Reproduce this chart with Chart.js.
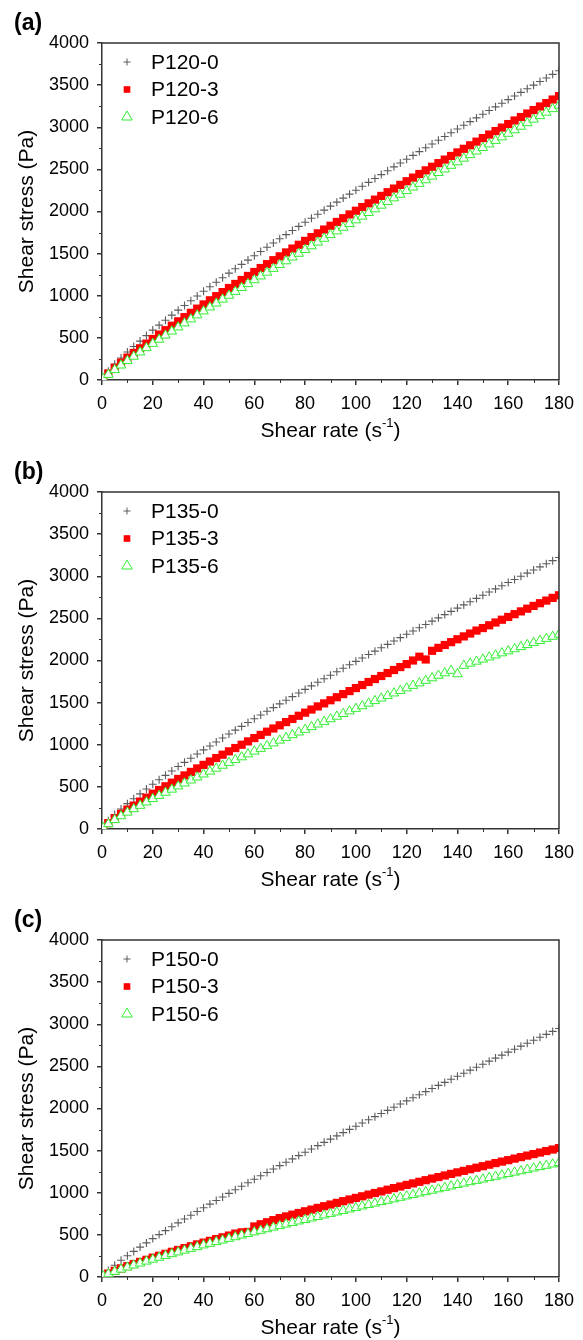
<!DOCTYPE html>
<html>
<head>
<meta charset="utf-8">
<script src="https://cdn.jsdelivr.net/npm/chart.js@4.4.0/dist/chart.umd.min.js"></script>
<style>
  html, body { margin: 0; padding: 0; background: #fff; }
  body { width: 583px; height: 1340px; position: relative; overflow: hidden; }
  canvas { position: absolute; left: 0; }
</style>
</head>
<body>
<canvas id="chartA" width="583" height="443" style="top:0px"></canvas>
<canvas id="chartB" width="583" height="443" style="top:449px"></canvas>
<canvas id="chartC" width="583" height="443" style="top:897px"></canvas>
<script>
const FONT = "'Liberation Sans', Arial, Helvetica, sans-serif";
const AXIS = '#333333';

// shear rate (s-1), same for every sample
const rate = [0.5, 2.5, 5, 7.5, 10, 12.5, 15, 17.5, 20, 22.5, 25, 27.5, 30, 32.5, 35, 37.5,
  40, 42.5, 45, 47.5, 50, 52.5, 55, 57.5, 60, 62.5, 65, 67.5, 70, 72.5, 75, 77.5,
  80, 82.5, 85, 87.5, 90, 92.5, 95, 97.5, 100, 102.5, 105, 107.5, 110, 112.5, 115, 117.5,
  120, 122.5, 125, 127.5, 130, 132.5, 135, 137.5, 140, 142.5, 145, 147.5, 150, 152.5, 155, 157.5,
  160, 162.5, 165, 167.5, 170, 172.5, 175, 177.5, 180];

// shear stress (Pa)
// (a)
const p120_0 = [28, 105, 188, 262, 333, 398, 462, 527, 592, 651, 710, 770, 829, 885, 941, 997,
  1053, 1107, 1161, 1214, 1268, 1320, 1372, 1423, 1475, 1525, 1576, 1626, 1676, 1725, 1774, 1823,
  1872, 1920, 1968, 2016, 2064, 2111, 2159, 2206, 2253, 2299, 2346, 2392, 2438, 2484, 2530, 2575,
  2621, 2666, 2711, 2756, 2801, 2846, 2890, 2935, 2979, 3023, 3067, 3111, 3155, 3198, 3242, 3285,
  3328, 3371, 3414, 3457, 3500, 3543, 3585, 3628, 3670];
const p120_3 = [19, 78, 144, 206, 265, 321, 376, 432, 487, 539, 591, 644, 696, 746, 797, 847,
  897, 946, 995, 1043, 1092, 1140, 1187, 1235, 1282, 1329, 1375, 1422, 1468, 1514, 1560, 1605,
  1651, 1696, 1741, 1786, 1831, 1876, 1920, 1965, 2009, 2053, 2097, 2141, 2185, 2229, 2272, 2316,
  2359, 2402, 2445, 2488, 2531, 2574, 2616, 2659, 2701, 2744, 2786, 2829, 2871, 2913, 2955, 2996,
  3038, 3080, 3121, 3163, 3204, 3246, 3287, 3329, 3370];
const p120_6 = [15, 64, 121, 175, 228, 279, 330, 381, 432, 481, 530, 578, 627, 675, 722, 770,
  817, 864, 910, 957, 1003, 1049, 1095, 1141, 1187, 1232, 1277, 1322, 1367, 1412, 1457, 1501,
  1546, 1590, 1634, 1679, 1723, 1767, 1810, 1854, 1898, 1942, 1985, 2029, 2072, 2115, 2159, 2202,
  2245, 2288, 2331, 2374, 2417, 2460, 2502, 2545, 2587, 2630, 2672, 2715, 2757, 2799, 2841, 2883,
  2925, 2967, 3009, 3051, 3093, 3135, 3176, 3218, 3260];
// (b)
const p135_0 = [26, 97, 171, 238, 301, 359, 417, 474, 532, 584, 637, 689, 741, 791, 840, 890,
  939, 986, 1033, 1080, 1127, 1173, 1218, 1264, 1309, 1353, 1397, 1441, 1485, 1528, 1571, 1614,
  1657, 1699, 1741, 1783, 1825, 1866, 1908, 1949, 1990, 2030, 2071, 2111, 2151, 2191, 2231, 2271,
  2311, 2350, 2389, 2428, 2467, 2506, 2545, 2583, 2622, 2660, 2698, 2737, 2775, 2813, 2850, 2888,
  2925, 2962, 3000, 3037, 3074, 3111, 3148, 3185, 3222];
const p135_3 = [18, 70, 127, 180, 231, 278, 325, 372, 419, 463, 507, 550, 594, 636, 678, 719,
  761, 801, 842, 882, 922, 961, 1000, 1040, 1079, 1117, 1155, 1193, 1231, 1269, 1306, 1344,
  1381, 1418, 1455, 1491, 1528, 1564, 1601, 1637, 1673, 1709, 1745, 1780, 1816, 1851, 1887, 1922,
  1957, 2000, 2045, 2012, 2115, 2150, 2184, 2218, 2252, 2286, 2320, 2355, 2385, 2418, 2451, 2484,
  2517, 2550, 2583, 2615, 2648, 2680, 2711, 2743, 2774];
const p135_6 = [15, 60, 109, 154, 197, 238, 278, 318, 358, 396, 433, 470, 508, 543, 579, 614,
  650, 684, 719, 754, 788, 821, 854, 889, 922, 954, 987, 1019, 1052, 1084, 1116, 1148,
  1180, 1212, 1243, 1274, 1306, 1336, 1368, 1399, 1429, 1460, 1491, 1521, 1552, 1581, 1612, 1642,
  1672, 1702, 1732, 1762, 1792, 1822, 1851, 1881, 1840, 1940, 1965, 1989, 2014, 2039, 2063, 2088,
  2112, 2137, 2162, 2186, 2211, 2235, 2260, 2284, 2309];
// (c)
const p150_0 = [20, 78, 140, 198, 253, 304, 355, 405, 456, 503, 550, 596, 643, 688, 733, 777,
  822, 865, 908, 950, 993, 1035, 1077, 1118, 1160, 1201, 1241, 1282, 1322, 1362, 1402, 1441,
  1481, 1520, 1559, 1598, 1637, 1675, 1714, 1752, 1790, 1828, 1866, 1903, 1941, 1978, 2015, 2053,
  2090, 2127, 2164, 2200, 2237, 2274, 2310, 2347, 2383, 2419, 2455, 2490, 2526, 2562, 2598, 2633,
  2669, 2704, 2740, 2775, 2810, 2845, 2880, 2915, 2950];
const p150_3 = [11, 41, 73, 102, 129, 154, 179, 204, 230, 252, 275, 299, 321, 343, 365, 387,
  408, 429, 450, 471, 492, 515, 530, 535, 600, 626, 650, 675, 699, 719, 740, 760,
  780, 800, 820, 840, 860, 880, 900, 920, 939, 958, 978, 997, 1016, 1036, 1055, 1074,
  1093, 1111, 1130, 1149, 1168, 1186, 1205, 1224, 1242, 1260, 1279, 1297, 1315, 1333, 1352, 1370,
  1387, 1405, 1423, 1441, 1459, 1477, 1495, 1513, 1530];
const p150_6 = [9, 36, 64, 91, 116, 140, 163, 186, 209, 231, 253, 274, 295, 316, 337, 357,
  378, 397, 417, 436, 456, 475, 495, 513, 533, 552, 570, 589, 607, 626, 644, 662,
  680, 698, 716, 734, 752, 769, 787, 805, 822, 840, 857, 874, 892, 908, 925, 943,
  960, 977, 994, 1010, 1027, 1044, 1061, 1078, 1095, 1111, 1128, 1144, 1160, 1177, 1193, 1209,
  1226, 1242, 1258, 1275, 1291, 1307, 1323, 1339, 1355];

const panelTags = ['(a)', '(b)', '(c)'];
const sampleNames = [
  ['P120-0', 'P120-3', 'P120-6'],
  ['P135-0', 'P135-3', 'P135-6'],
  ['P150-0', 'P150-3', 'P150-6']
];
const panelSeries = [
  [p120_0, p120_3, p120_6],
  [p135_0, p135_3, p135_6],
  [p150_0, p150_3, p150_6]
];

// grey plus, red filled square, green open triangle
const looks = [
  { pointStyle: 'cross', pointRadius: 4, pointBorderColor: '#5c5c5c', pointBackgroundColor: '#5c5c5c', pointBorderWidth: 1.1, order: 2, legendRadius: 3.5 },
  { pointStyle: 'rect', pointRadius: 5.8, pointBorderColor: '#ff0000', pointBackgroundColor: '#ff0000', pointBorderWidth: 0, order: 1, legendRadius: 4.7 },
  { pointStyle: 'triangle', pointRadius: 5.5, pointBorderColor: '#33ee33', pointBackgroundColor: '#ffffff', pointBorderWidth: 1, order: 0, legendRadius: 6 }
];

const deco = {
  id: 'deco',
  afterDraw(chart, args, opts) {
    const { ctx, chartArea: a, scales: { x, y } } = chart;
    ctx.save();
    // top and right frame
    ctx.strokeStyle = AXIS;
    ctx.lineWidth = 1.5;
    ctx.beginPath();
    ctx.moveTo(a.left, a.top);
    ctx.lineTo(a.right, a.top);
    ctx.lineTo(a.right, a.bottom);
    ctx.stroke();
    // minor ticks
    ctx.lineWidth = 1;
    ctx.beginPath();
    for (let v = 10; v < 180; v += 20) {
      const px = Math.round(x.getPixelForValue(v)) + 0.5;
      ctx.moveTo(px, a.bottom);
      ctx.lineTo(px, a.bottom + 3);
    }
    for (let v = 250; v < 4000; v += 500) {
      const py = Math.round(y.getPixelForValue(v)) + 0.5;
      ctx.moveTo(a.left - 3, py);
      ctx.lineTo(a.left, py);
    }
    ctx.stroke();

    ctx.fillStyle = '#000';
    ctx.textBaseline = 'middle';
    // panel tag
    ctx.textAlign = 'left';
    ctx.font = 'bold 23px ' + FONT;
    ctx.fillText(opts.tag, 14, a.top - 19);

    // x title with superscript
    ctx.font = '21px ' + FONT;
    const main = 'Shear rate (s';
    const sup = '-1';
    const w1 = ctx.measureText(main).width;
    const w3 = ctx.measureText(')').width;
    ctx.font = '13px ' + FONT;
    const w2 = ctx.measureText(sup).width;
    let tx = (a.left + a.right) / 2 - (w1 + w2 + w3) / 2;
    const ty = a.bottom + 51;
    ctx.font = '21px ' + FONT;
    ctx.fillText(main, tx, ty);
    ctx.font = '13px ' + FONT;
    ctx.fillText(sup, tx + w1, ty - 8);
    ctx.font = '21px ' + FONT;
    ctx.fillText(')', tx + w1 + w2, ty);

    // y title
    ctx.save();
    ctx.translate(27, (a.top + a.bottom) / 2);
    ctx.rotate(-Math.PI / 2);
    ctx.textAlign = 'center';
    ctx.fillText('Shear stress (Pa)', 0, 0);
    ctx.restore();

    // legend
    chart.data.datasets.forEach((ds, i) => {
      const ly = a.top + 19 + i * 27.5;
      ctx.fillStyle = ds.pointBackgroundColor;
      ctx.strokeStyle = ds.pointBorderColor;
      ctx.lineWidth = 1;
      Chart.helpers.drawPoint(ctx, {
        pointStyle: ds.pointStyle, radius: ds.legendRadius,
        borderWidth: ds.pointBorderWidth, rotation: 0
      }, 127, ly);
      ctx.fillStyle = '#000';
      ctx.font = '21px ' + FONT;
      ctx.textAlign = 'left';
      ctx.fillText(ds.label, 151, ly + 1);
    });
    ctx.restore();
  }
};

function makePanel(id, k) {
  const datasets = panelSeries[k].map((vals, i) => Object.assign({
    label: sampleNames[k][i],
    data: rate.map((r, j) => ({ x: r, y: vals[j] })),
    showLine: false,
    clip: 0
  }, looks[i]));

  new Chart(document.getElementById(id), {
    type: 'scatter',
    data: { datasets: datasets },
    options: {
      responsive: false,
      animation: false,
      devicePixelRatio: 1,
      layout: { padding: { top: 43, right: 24, left: 0, bottom: 0 } },
      plugins: {
        legend: { display: false },
        title: { display: false },
        tooltip: { enabled: false },
        deco: { tag: panelTags[k] }
      },
      scales: {
        x: {
          type: 'linear', min: 0, max: 180,
          ticks: { stepSize: 20, color: '#000', padding: 8, maxRotation: 0, font: { family: FONT, size: 18 }, callback: v => String(v) },
          grid: { drawOnChartArea: false, drawTicks: true, tickLength: 5, color: AXIS, lineWidth: 1.5 },
          border: { display: true, color: AXIS, width: 1.5 },
          afterFit(s) { s.height = 63; }
        },
        y: {
          min: 0, max: 4000,
          ticks: { stepSize: 500, color: '#000', padding: 8, font: { family: FONT, size: 18 }, callback: v => String(v) },
          grid: { drawOnChartArea: false, drawTicks: true, tickLength: 5, color: AXIS, lineWidth: 1.5 },
          border: { display: true, color: AXIS, width: 1.5 },
          afterFit(s) { s.width = 102; }
        }
      }
    },
    plugins: [deco]
  });
}

makePanel('chartA', 0);
makePanel('chartB', 1);
makePanel('chartC', 2);
</script>
</body>
</html>
